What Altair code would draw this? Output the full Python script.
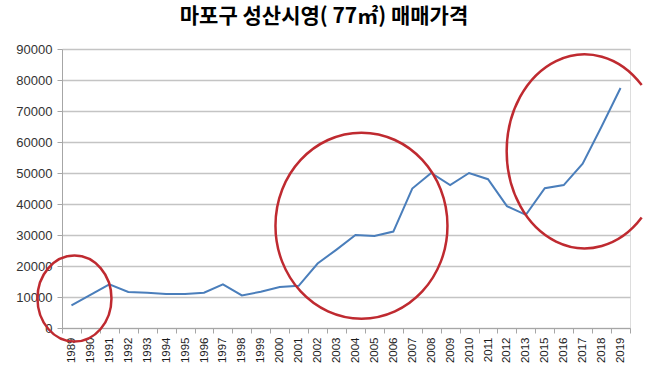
import altair as alt
import pandas as pd

# ---- data ----
years = ["1989", "1990", "1991", "1992", "1993", "1994", "1995", "1996", "1997",
         "1998", "1999", "2000", "2001", "2002", "2003", "2004", "2005", "2006",
         "2007", "2008", "2009", "2010", "2011", "2012", "2013", "2015", "2016",
         "2017", "2018", "2019"]
prices = [7300, 10700, 14100, 11600, 11400, 11000, 11000, 11400, 14100,
          10500, 11700, 13200, 13600, 20800, 25300, 30000, 29700, 31100,
          45000, 50000, 46100, 50000, 48000, 39300, 36500, 45100, 46100,
          53000, 65000, 77400]
y_ticks = [0, 10000, 20000, 30000, 40000, 50000, 60000, 70000, 80000, 90000]

# annotation ellipses (centre in data coordinates)
ell_year = ["1989", "2004", "2017"]
ell_value = [9500, 33000, 57000]

title_text = "마포구 성산시영( 77㎡) 매매가격"

df = pd.DataFrame({"year": years, "price": prices})

# ---- styling helpers ----
K = 50.0  # path unit -> pixels (size = (2K)^2)
SIZE = (2 * K) ** 2


def ellipse_path(rx, ry, dx=0.0, cut_right=None):
    rxn, ryn, dxn = rx / K, ry / K, dx / K
    if cut_right is None:
        return (f"M {dxn - rxn:.4f} 0 A {rxn:.4f} {ryn:.4f} 0 1 0 {dxn + rxn:.4f} 0 "
                f"A {rxn:.4f} {ryn:.4f} 0 1 0 {dxn - rxn:.4f} 0")
    xc = cut_right
    yc = ry * (1 - (xc / rx) ** 2) ** 0.5
    return (f"M {dxn + xc / K:.4f} {-yc / K:.4f} A {rxn:.4f} {ryn:.4f} 0 1 0 "
            f"{dxn + xc / K:.4f} {yc / K:.4f}")


ell_styles = [
    dict(rx=37, ry=43, dx=3, cut=None),
    dict(rx=86, ry=93, dx=6, cut=None),
    dict(rx=78, ry=97, dx=2, cut=57),
]

x_enc = alt.X(
    "year:O",
    scale=alt.Scale(type="band", domain=years, paddingInner=0, paddingOuter=0),
    axis=alt.Axis(
        title=None, labelAngle=270, tickBand="extent", grid=False,
        labelFont="Liberation Sans", labelFontSize=11.5, labelColor="#1a1a1a",
        labelPadding=4, tickSize=5, tickColor="#a6a6a6", domainColor="#a6a6a6",
        labelOverlap=False,
    ),
)
y_enc = alt.Y(
    "price:Q",
    scale=alt.Scale(domain=[0, 90000], nice=False),
    axis=alt.Axis(
        title=None, values=y_ticks, tickCount=10, format="d", grid=True,
        gridColor="#c4c4c4", gridWidth=1.3, labelOverlap=False,
        labelFont="Liberation Sans", labelFontSize=13, labelColor="#333333",
        labelPadding=5, tickSize=5, tickColor="#a6a6a6", domainColor="#a6a6a6",
    ),
)

line = alt.Chart(df).mark_line(color="#4a7ebb", strokeWidth=2).encode(x=x_enc, y=y_enc)

layers = [line]
for yr, val, st in zip(ell_year, ell_value, ell_styles):
    edf = pd.DataFrame({"year": [yr], "price": [val]})
    layers.append(
        alt.Chart(edf).mark_point(
            shape=ellipse_path(st["rx"], st["ry"], st["dx"], st["cut"]),
            size=SIZE, filled=False, stroke="#bf2a30", strokeWidth=2.5, opacity=1,
        ).encode(x=x_enc, y=y_enc)
    )

chart = alt.layer(*layers).properties(
    width=568,
    height=279,
    padding={"left": 62, "top": 49, "right": 42, "bottom": 49},
    autosize=alt.AutoSizeParams(type="none"),
    title=alt.TitleParams(
        text=title_text, font="Noto Sans CJK KR", fontSize=21, fontWeight="bold",
        color="#000000", anchor="middle", dx=-22, offset=16,
    ),
).configure_view(stroke=None).configure(background="white")

chart.save("out.html", embed_options={"renderer": "svg", "actions": False})
